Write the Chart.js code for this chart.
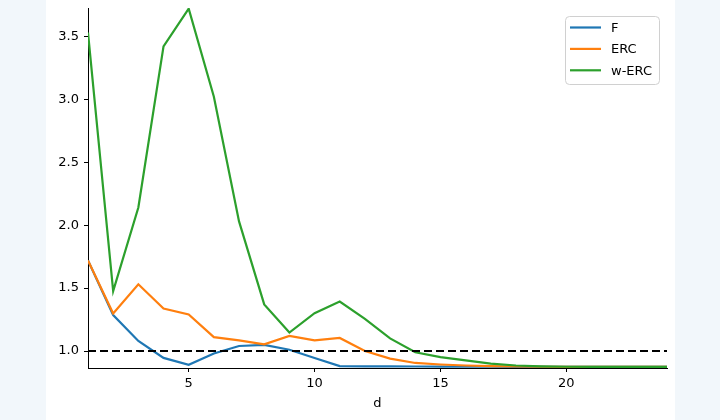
<!DOCTYPE html>
<html>
<head>
<meta charset="utf-8">
<script src="https://cdn.jsdelivr.net/npm/chart.js@4.4.0/dist/chart.umd.min.js"></script>
<style>
  html, body { margin: 0; padding: 0; background: #f2f7fb; }
  #panel { position: absolute; left: 46px; top: 0; width: 629px; height: 420px; background: #fff; }
</style>
</head>
<body>
<div id="panel"><canvas id="chart" width="629" height="420"></canvas></div>
<script>
// data
const dValues = [1, 2, 3, 4, 5, 6, 7, 8, 9, 10, 11, 12, 13, 14, 15, 16, 17, 18, 19, 20, 21, 22, 23, 24];
const fValues = [1.72, 1.285, 1.08, 0.945, 0.89, 0.98, 1.04, 1.048, 1.01, 0.945, 0.88, 0.878, 0.878, 0.877, 0.876, 0.875, 0.875, 0.874, 0.874, 0.874, 0.874, 0.874, 0.874, 0.874];
const ercValues = [1.72, 1.298, 1.53, 1.338, 1.29, 1.11, 1.085, 1.053, 1.12, 1.085, 1.104, 1.0, 0.94, 0.905, 0.893, 0.885, 0.88, 0.877, 0.875, 0.874, 0.874, 0.874, 0.874, 0.874];
const wercValues = [3.53, 1.476, 2.14, 3.42, 3.72, 3.02, 2.03, 1.37, 1.147, 1.3, 1.393, 1.255, 1.1, 0.99, 0.952, 0.925, 0.9, 0.885, 0.878, 0.875, 0.874, 0.874, 0.874, 0.874];
const refLevel = 1.0;
const xTicks = [5, 10, 15, 20];
const yTicks = [1.0, 1.5, 2.0, 2.5, 3.0, 3.5];

const toPoints = (ys) => ys.map((y, i) => ({ x: dValues[i], y: y }));
const font = { family: "DejaVu Sans", size: 13 };

// matplotlib-like legend box in the upper right
const boxLegend = {
  id: "boxLegend",
  afterDatasetsDraw(chart) {
    const ctx = chart.ctx;
    const area = chart.chartArea;
    const items = chart.data.datasets.filter((ds) => !ds.noLegend);
    ctx.save();
    ctx.font = "13px 'DejaVu Sans'";
    const maxW = Math.max(...items.map((ds) => ctx.measureText(ds.label).width));
    const boxW = 5 + 31 + 10 + maxW + 7;
    const boxH = 68;
    const right = area.right - 8;
    const left = right - boxW;
    const top = area.top + 8;
    ctx.beginPath();
    ctx.roundRect(left + 0.5, top + 0.5, boxW, boxH, 4);
    ctx.fillStyle = "rgba(255,255,255,0.8)";
    ctx.fill();
    ctx.strokeStyle = "#d0d0d0";
    ctx.lineWidth = 1;
    ctx.stroke();
    items.forEach((ds, i) => {
      const y = top + 11.5 + i * 21.4;
      ctx.beginPath();
      ctx.moveTo(left + 5, y);
      ctx.lineTo(left + 36, y);
      ctx.strokeStyle = ds.borderColor;
      ctx.lineWidth = 2.2;
      ctx.stroke();
      ctx.fillStyle = "#000";
      ctx.textBaseline = "middle";
      ctx.fillText(ds.label, left + 46, y + 1);
    });
    ctx.restore();
  },
};

new Chart(document.getElementById("chart"), {
  type: "line",
  data: {
    datasets: [
      {
        label: "ref",
        noLegend: true,
        data: [{ x: dValues[0], y: refLevel }, { x: dValues[dValues.length - 1], y: refLevel }],
        borderColor: "#000",
        borderWidth: 2.2,
        borderDash: [8, 4],
        pointRadius: 0,
        order: 1,
      },
      {
        label: "F",
        data: toPoints(fValues),
        borderColor: "#1f77b4",
        borderWidth: 2.2,
        pointRadius: 0,
        order: 4,
      },
      {
        label: "ERC",
        data: toPoints(ercValues),
        borderColor: "#ff7f0e",
        borderWidth: 2.2,
        pointRadius: 0,
        order: 3,
      },
      {
        label: "w-ERC",
        data: toPoints(wercValues),
        borderColor: "#2ca02c",
        borderWidth: 2.2,
        pointRadius: 0,
        order: 2,
      },
    ],
  },
  options: {
    responsive: false,
    animation: false,
    layout: { padding: { top: 8, right: 8, left: 0, bottom: 0 } },
    plugins: {
      legend: { display: false },
      tooltip: { enabled: false },
    },
    scales: {
      x: {
        type: "linear",
        min: 1,
        max: 24,
        afterBuildTicks: (scale) => { scale.ticks = xTicks.map((v) => ({ value: v })); },
        afterFit: (scale) => { scale.height = 52; scale.paddingLeft = 0; scale.paddingRight = 0; },
        grid: { display: true, drawOnChartArea: false, drawTicks: true, tickLength: 4, color: "#000" },
        border: { display: true, color: "#000", width: 1 },
        ticks: { color: "#000", font: font, padding: 4, maxRotation: 0 },
        title: { display: true, text: "d", color: "#000", font: font, padding: { top: 4, bottom: 9 } },
      },
      y: {
        type: "linear",
        min: 0.865,
        max: 3.725,
        afterBuildTicks: (scale) => { scale.ticks = yTicks.map((v) => ({ value: v })); },
        afterFit: (scale) => { scale.width = 42; scale.paddingTop = 0; scale.paddingBottom = 0; },
        grid: { display: true, drawOnChartArea: false, drawTicks: true, tickLength: 4, color: "#000" },
        border: { display: true, color: "#000", width: 1 },
        ticks: { color: "#000", font: font, padding: 5, callback: (v) => v.toFixed(1) },
      },
    },
  },
  plugins: [boxLegend],
});
</script>
</body>
</html>
